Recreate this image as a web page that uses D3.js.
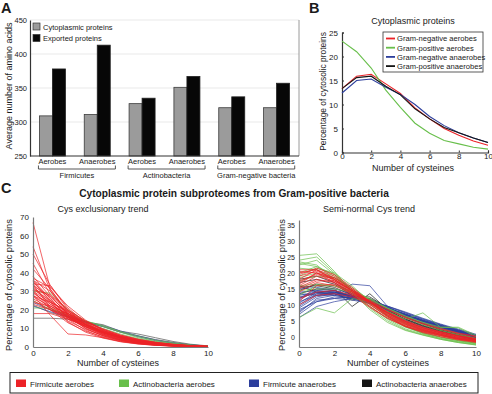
<!DOCTYPE html>
<html>
<head>
<meta charset="utf-8">
<script src="https://cdn.jsdelivr.net/npm/d3@7/dist/d3.min.js"></script>
<style>
  body { margin: 0; background: #fff; }
  svg text { font-family: "Liberation Sans", Arial, sans-serif; fill: #1a1a1a; }
</style>
</head>
<body>
<svg id="fig" width="492" height="394"></svg>
<script>
// ---------- data: panel A ----------
const groupLabels = ["Aerobes", "Anaerobes", "Aerobes", "Anaerobes", "Aerobes", "Anaerobes"];
const phyla = ["Firmicutes", "Actinobacteria", "Gram-negative bacteria"];
const cytoplasmicLen = [309, 311, 327, 351, 321, 321];
const exportedLen = [378, 413, 335, 367, 337, 357];
const aTicks = [250, 300, 350, 400, 450];
const aLegend = ["Cytoplasmic proteins", "Exported proteins"];

// ---------- data: panel B ----------
const cysCounts = [0, 1, 2, 3, 4, 5, 6, 7, 8, 9, 10];
const bNames = ["Gram-negative aerobes", "Gram-positive aerobes", "Gram-negative anaerobes", "Gram-positive anaerobes"];
const gramNegAerobes = [13.3, 15.9, 16.3, 14.3, 12.3, 9.3, 7.0, 5.0, 3.6, 2.4, 1.5];
const gramPosAerobes = [23.2, 21.0, 17.6, 13.0, 9.4, 6.1, 4.0, 2.5, 1.8, 1.1, 0.7];
const gramNegAnaerobes = [12.4, 15.0, 15.3, 13.6, 12.1, 10.0, 7.5, 5.6, 4.1, 3.0, 2.1];
const gramPosAnaerobes = [13.3, 15.6, 15.9, 13.8, 12.0, 9.1, 7.0, 5.2, 4.1, 3.0, 2.1];
const bTicksX = [0, 2, 4, 6, 8, 10];
const bTicksY = [0, 5, 10, 15, 20, 25];

// ---------- data: panel C, exclusionary trend ----------
const exclFirmAer = [
  [67, 31, 18, 12, 8, 5, 3, 2, 1, 0.5, 0.2],
  [54, 30, 17, 11, 7, 4.5, 2.8, 1.7, 1, 0.5, 0.2],
  [50, 33, 20, 12, 7.5, 4.5, 2.6, 1.5, 0.8, 0.4, 0.2],
  [45, 28, 17, 10, 6, 3.5, 2, 1.2, 0.6, 0.3, 0.1],
  [42, 31, 19, 12, 7, 4, 2.3, 1.3, 0.7, 0.3, 0.1],
  [28, 17, 7, 6.5, 5, 3, 1.8, 1, 0.5, 0.2, 0.1],
  [38, 27, 18, 11, 6.5, 3.8, 2.1, 1.2, 0.6, 0.3, 0.1],
  [36, 30, 19, 12.5, 8, 5, 3, 1.8, 1, 0.5, 0.2],
  [35, 26, 16, 10, 6, 3.6, 2, 1.1, 0.6, 0.3, 0.1],
  [34, 25, 17, 11, 7, 4.2, 2.5, 1.4, 0.8, 0.4, 0.2],
  [33, 27, 18, 12, 7.6, 4.8, 2.9, 1.7, 1, 0.5, 0.2],
  [32.5, 24, 16, 10.5, 6.6, 4, 2.4, 1.4, 0.8, 0.4, 0.2],
  [32, 23, 17, 12.5, 8.5, 5.5, 3.4, 2, 1.1, 0.6, 0.3],
  [31, 25, 18, 13, 8.8, 5.8, 3.5, 2.1, 1.2, 0.6, 0.3],
  [30, 24, 19, 13.5, 9.5, 6.2, 4, 2.4, 1.4, 0.7, 0.3],
  [29.5, 22, 16, 11.5, 7.8, 5, 3, 1.8, 1, 0.5, 0.2],
  [29, 23, 17.5, 12, 8, 5.2, 3.2, 1.9, 1.1, 0.6, 0.3],
  [28, 21, 15.5, 11, 7.5, 4.8, 3, 1.8, 1, 0.5, 0.2],
  [27, 22, 16.5, 12.5, 8.8, 6, 3.8, 2.3, 1.3, 0.7, 0.3],
  [26, 21, 16, 11.8, 8.2, 5.4, 3.4, 2, 1.2, 0.6, 0.3],
  [25, 20, 15, 11, 7.6, 5, 3.2, 1.9, 1.1, 0.6, 0.3],
  [24, 22, 18, 13.5, 9.5, 6.4, 4.2, 2.6, 1.5, 0.8, 0.4],
  [23, 20, 16, 12, 8.5, 5.7, 3.7, 2.2, 1.3, 0.7, 0.3],
  [18, 18, 15, 11.5, 8.2, 5.5, 3.5, 2.1, 1.2, 0.6, 0.3],
  [34, 33, 21, 13, 8, 4.8, 2.8, 1.6, 0.9, 0.4, 0.2],
  [36, 26, 15, 9, 5.2, 3, 1.7, 0.9, 0.5, 0.2, 0.1],
  [31, 28, 20, 14, 9, 5.6, 3.3, 1.9, 1, 0.5, 0.2],
  [33.5, 21, 14, 9.5, 6.2, 3.9, 2.3, 1.3, 0.7, 0.3, 0.1],
  [27.5, 24, 19.5, 14, 9.8, 6.5, 4.1, 2.5, 1.4, 0.7, 0.3],
  [30.5, 20, 13, 8.5, 5.5, 3.4, 2, 1.1, 0.6, 0.3, 0.1],
  [37, 32, 22, 14.5, 9.2, 5.6, 3.2, 1.8, 1, 0.5, 0.2],
  [35.5, 24.5, 13.5, 8, 4.8, 2.8, 1.6, 0.9, 0.5, 0.2, 0.1]
];
const exclActinoAer = [
  [21, 21, 17, 13, 10, 7, 4.5, 2.8, 1.6, 0.8, 0.3],
  [30, 29, 20, 14, 11, 8, 5, 3, 1.8, 0.9, 0.4],
  [25, 20, 18, 14, 11.5, 8.3, 5.8, 3.6, 2.2, 1.1, 0.5]
];
const exclFirmAnaer = [
  [24, 20, 17, 13.5, 11, 8, 5.5, 3.4, 2, 1, 0.4],
  [22, 19, 16.5, 13.5, 11.5, 8.6, 6, 3.8, 2.2, 1.1, 0.5]
];
const exclActinoAnaer = [
  [22.5, 18.5, 16, 13.5, 12, 8.5, 7, 5, 3, 1.5, 0.6],
  [15.5, 15.5, 15, 13, 11, 8, 6, 4, 2.5, 1.2, 0.5]
];

// ---------- data: panel C, semi-normal trend ----------
const semiFirmAer = [
  [20, 21, 18, 14, 10, 6.5, 3.8, 2, 0.8, -0.5, -1.2],
  [19, 20.5, 18.5, 14.5, 10.5, 6.8, 4, 2.2, 0.8, -0.6, -1.5],
  [17, 20, 18, 14.5, 11, 7, 4.2, 2.3, 1, -0.3, -1],
  [16, 19, 17.5, 14.5, 11, 7.3, 4.5, 2.5, 1.2, 0, -0.8],
  [15.5, 18, 17, 14, 10.8, 7.5, 4.8, 2.8, 1.4, 0.2, -0.6],
  [21, 21, 17.5, 13.5, 9.5, 5.8, 3.2, 1.5, 0.3, -0.8, -1.6],
  [18, 21, 19, 15, 10.8, 6.8, 3.8, 1.8, 0.5, -0.8, -1.5],
  [16.5, 20, 18.5, 15, 11.2, 7.4, 4.4, 2.2, 0.8, -0.4, -1.2],
  [14, 17, 16, 13.5, 11, 7.8, 5, 3, 1.6, 0.4, -0.5],
  [12, 14, 14.5, 13, 11.5, 8.5, 6, 4, 2.4, 1, 0],
  [10, 13, 13.5, 12.5, 11, 8.6, 6.2, 4.2, 2.6, 1.2, 0.2],
  [19.5, 21.5, 19.5, 15.5, 11, 6.5, 3.3, 1.3, 0, -1, -1.8],
  [17.5, 19.5, 18, 14.5, 10.2, 6.2, 3.4, 1.6, 0.4, -0.7, -1.4],
  [20.5, 20, 17, 13, 9.2, 5.8, 3.4, 1.8, 0.6, -0.5, -1.3],
  [15, 17.5, 17.5, 14.5, 11, 7.6, 4.6, 2.6, 1.2, 0, -1],
  [11, 16, 16.5, 14, 11, 7.8, 5, 2.9, 1.5, 0.3, -0.7]
];
const semiActinoAer = [
  [25.5, 26, 20.5, 14, 8.5, 4.5, 2, 0.5, -0.8, -1.8, -2.5],
  [24, 25, 20, 14.5, 9.5, 5.5, 2.5, 0.8, -0.5, -1.5, -2.2],
  [23, 22, 19, 14.5, 10.2, 6.2, 3.2, 1.2, -0.2, -1.2, -2],
  [22.5, 24, 19.5, 14, 9, 5, 2.2, 0.6, -0.8, -1.8, -2.6],
  [21.5, 21, 18.5, 15, 11, 7, 4, 2, 0.5, -0.6, -1.5],
  [20, 22, 19.5, 15, 10.5, 6.5, 3.5, 1.5, 0, -1.2, -2],
  [18.5, 20, 18, 14.5, 10.8, 7.2, 4.4, 2.4, 0.8, -0.5, -1.4],
  [16, 16.5, 16, 14.5, 12, 9, 6.5, 4.5, 2.5, 1, -0.5],
  [6, 9, 7.5, 12, 11, 8, 5.5, 7.5, 3, 3, 0.5],
  [14.5, 15, 15, 14, 11.5, 9, 6.5, 4.5, 3, 2.8, 0],
  [23.5, 22.5, 18, 13.5, 9.5, 5.8, 3, 1.2, -0.2, -1.2, -2],
  [19, 21.5, 20, 16, 11, 6.5, 3.2, 1, -0.6, -1.6, -2.4],
  [17.5, 19, 18.5, 15.5, 11.5, 7.5, 4.2, 2, 0.4, -0.8, -1.8],
  [13, 16, 16, 14, 11.8, 8.8, 6, 3.8, 2, 0.6, -0.6]
];
const semiFirmAnaer = [
  [6, 9.5, 11, 12, 10.5, 8.5, 6.5, 4.5, 3, 1.5, 0],
  [7, 11, 12.5, 12, 10.5, 8.6, 6.8, 4.8, 3.2, 1.6, 0.2],
  [7.5, 12, 13, 12, 10.8, 8.8, 7, 5, 3.4, 1.8, 0.2],
  [8, 11.5, 12, 11.5, 10.5, 8.8, 7.2, 5.2, 3.5, 2, 0.4],
  [9, 12.5, 13.5, 12.5, 11, 9, 7, 5, 3.3, 1.7, 0.1],
  [9.5, 13, 14, 12.8, 11.2, 9, 6.8, 4.8, 3.2, 1.6, 0],
  [10, 13.5, 14, 12.5, 11, 8.8, 6.6, 4.6, 3, 1.4, -0.2],
  [10.5, 14, 14.5, 13, 11, 8.5, 6.2, 4.3, 2.7, 1.2, -0.3],
  [11, 13, 13.5, 12.5, 11.2, 9.2, 7.2, 5.2, 3.5, 1.9, 0.3],
  [11.5, 14.5, 14, 12.2, 10.5, 8.4, 6.5, 4.6, 3, 1.5, 0],
  [12, 14, 13, 16.5, 16, 9.5, 6.5, 4.5, 2.8, 1.3, -0.2],
  [12.5, 13.5, 13.5, 12, 10.5, 8.8, 7, 5.2, 3.6, 2, 0.5],
  [13, 14, 14, 13, 11.5, 9.5, 7.5, 5.5, 3.8, 2.2, 0.6],
  [13.5, 13, 13, 12, 11, 9.6, 7.8, 5.8, 4, 2.4, 0.8],
  [14, 14.5, 14, 12.5, 11, 9, 7, 5, 3.4, 1.8, 0.2],
  [15, 15.5, 14.5, 12.5, 10.6, 8.6, 6.6, 4.8, 3.2, 1.7, 0.1],
  [8.5, 11, 12, 12.5, 11.5, 9.6, 7.6, 5.6, 3.8, 2.1, 0.4],
  [12, 15, 15, 13.5, 11.8, 9.2, 6.8, 4.8, 3.1, 1.6, 0]
];
const semiActinoAnaer = [
  [18, 19, 17, 13.5, 10.5, 7.5, 4.8, 2.8, 1.2, -0.2, -1.2],
  [15.5, 16, 15, 9.5, 13.5, 8.5, 5.5, 3.4, 1.8, 0.4, -0.8],
  [17, 18, 16.5, 13, 11.8, 8, 5.2, 3.2, 1.6, 0.2, -1],
  [13.5, 15, 14.5, 12.5, 12.5, 9, 6, 4, 2.2, 0.8, -0.4],
  [14.5, 16.5, 15.5, 13, 11, 8.2, 5.6, 3.6, 2, 0.6, -0.6],
  [16, 14, 13.5, 11.5, 12, 9.2, 6.4, 4.2, 2.5, 1, -0.3]
];
const cTicksX = [0, 2, 4, 6, 8, 10];
const exclTicksY = [0, 10, 20, 30, 40, 50, 60, 70];
const semiTicksY = [0, 5, 10, 15, 20, 25, 30, 35];
const cLegend = ["Firmicute aerobes", "Actinobacteria aerobes", "Firmicute anaerobes", "Actinobacteria anaerobes"];

// colours
const RED = "#ec2227", GREEN = "#68bf4b", BLUE = "#2c3e9c", BLACK = "#151515";

const svg = d3.select("#fig");

function styleAxis(g, size, lineColor) {
  g.select(".domain").attr("stroke", lineColor).attr("stroke-width", 1.2);
  g.selectAll(".tick line").attr("stroke", lineColor);
  g.selectAll(".tick text").style("font-size", size + "px").attr("fill", "#1a1a1a")
    .style("font-family", '"Liberation Sans", Arial, sans-serif');
}

function label(x, y, txt, size, opts = {}) {
  const t = svg.append("text").attr("x", x).attr("y", y)
    .attr("text-anchor", opts.anchor || "middle")
    .style("font-size", size + "px")
    .style("font-weight", opts.bold ? "bold" : "normal")
    .text(txt);
  if (opts.rotate) t.attr("transform", `rotate(-90,${x},${y})`);
  return t;
}

// ================= Panel A =================
const aX = d3.scaleBand().domain(d3.range(groupLabels.length))
  .range([30, 299]).paddingInner(0.42).paddingOuter(0.21);
const aSub = d3.scaleBand().domain(["cyto", "exp"]).range([0, aX.bandwidth()]);
const aY = d3.scaleLinear().domain([250, 450]).range([156, 20]);

// gridlines
svg.append("g").selectAll("line").data(aTicks.slice(1)).enter().append("line")
  .attr("x1", 30).attr("x2", 299)
  .attr("y1", d => aY(d)).attr("y2", d => aY(d))
  .attr("stroke", "#e9e9e9").attr("stroke-width", 1);
// right frame
svg.append("line").attr("x1", 299).attr("x2", 299).attr("y1", aY(450)).attr("y2", aY(250))
  .attr("stroke", "#9a9a9a").attr("stroke-width", 1);

const aBars = svg.append("g");
aBars.selectAll(".cyto").data(cytoplasmicLen).enter().append("rect")
  .attr("x", (d, i) => aX(i) + aSub("cyto"))
  .attr("y", d => aY(d))
  .attr("width", aSub.bandwidth())
  .attr("height", d => aY(250) - aY(d))
  .attr("fill", "#9b9b9b").attr("stroke", "#3c3c3c").attr("stroke-width", 0.8);
aBars.selectAll(".exp").data(exportedLen).enter().append("rect")
  .attr("x", (d, i) => aX(i) + aSub("exp"))
  .attr("y", d => aY(d))
  .attr("width", aSub.bandwidth())
  .attr("height", d => aY(250) - aY(d))
  .attr("fill", "#070707").attr("stroke", "#222").attr("stroke-width", 0.8);

const aLeft = svg.append("g").attr("transform", "translate(30,0)")
  .call(d3.axisLeft(aY).tickValues(aTicks).tickSize(0).tickPadding(3));
styleAxis(aLeft, 7.5, "#333");
svg.append("line").attr("x1", 30).attr("x2", 299).attr("y1", 156).attr("y2", 156)
  .attr("stroke", "#333").attr("stroke-width", 1.2);

// group labels and phylum brackets
const gLabelNodes = groupLabels.map((t, i) =>
  label(aX(i) + aX.bandwidth() / 2, 163.5, t, 7.5).node());
phyla.forEach((p, k) => {
  const a = gLabelNodes[2 * k], b = gLabelNodes[2 * k + 1];
  const x1 = aX(2 * k) + aX.bandwidth() / 2 - a.getComputedTextLength() / 2;
  const x2 = aX(2 * k + 1) + aX.bandwidth() / 2 + b.getComputedTextLength() / 2;
  svg.append("path")
    .attr("d", `M${x1},165.5 V169 H${x2} V165.5`)
    .attr("fill", "none").attr("stroke", "#444").attr("stroke-width", 0.9);
  label((x1 + x2) / 2, 178, p, 7.5);
});

// legend A
aLegend.forEach((t, i) => {
  svg.append("rect").attr("x", 33).attr("y", 23 + i * 11.5).attr("width", 7).attr("height", 7)
    .attr("fill", i === 0 ? "#9b9b9b" : "#070707").attr("stroke", "#333").attr("stroke-width", 0.7);
  label(43, 29.5 + i * 11.5, t, 7.5, { anchor: "start" });
});
label(11.5, 86, "Average number of amino acids", 9, { rotate: true });
label(1, 13, "A", 14.5, { anchor: "start", bold: true });

// ================= Panel B =================
const bX = d3.scaleLinear().domain([0, 10]).range([342, 488]);
const bY = d3.scaleLinear().domain([0, 25]).range([152.5, 32.5]);
const bSeries = [gramNegAerobes, gramPosAerobes, gramNegAnaerobes, gramPosAnaerobes];
const bColors = [RED, GREEN, BLUE, BLACK];

const bLeft = svg.append("g").attr("transform", "translate(342,0)")
  .call(d3.axisLeft(bY).tickValues(bTicksY).tickSize(-2).tickPadding(4));
styleAxis(bLeft, 8, "#333");
const bBottom = svg.append("g").attr("transform", "translate(0,152.5)")
  .call(d3.axisBottom(bX).tickValues(bTicksX).tickSize(-2).tickPadding(1));
styleAxis(bBottom, 8, "#333");

const bLine = d3.line().x((d, i) => bX(cysCounts[i])).y(d => bY(d));
svg.append("g").selectAll("path").data(bSeries).enter().append("path")
  .attr("d", d => bLine(d))
  .attr("fill", "none")
  .attr("stroke", (d, i) => bColors[i])
  .attr("stroke-width", 1.1);

// legend B
svg.append("rect").attr("x", 383).attr("y", 32).attr("width", 100).attr("height", 40)
  .attr("fill", "#fff").attr("stroke", "#333").attr("stroke-width", 0.8);
bNames.forEach((t, i) => {
  const yy = 38.5 + i * 9.2;
  svg.append("line").attr("x1", 386).attr("x2", 395).attr("y1", yy).attr("y2", yy)
    .attr("stroke", bColors[i]).attr("stroke-width", 1.8);
  label(397, yy + 2.8, t, 7.6, { anchor: "start" });
});
label(413, 24, "Cytoplasmic proteins", 9);
label(413, 171, "Number of cysteines", 9);
label(325.5, 91.5, "Percentage of cytosolic proteins", 8.4, { rotate: true });
label(309, 13, "B", 14.5, { anchor: "start", bold: true });

// ================= Panel C =================
label(1, 193, "C", 14.5, { anchor: "start", bold: true });
label(234, 197, "Cytoplasmic protein subproteomes from Gram-positive bacteria", 10.2, { bold: true });

function drawSpaghetti(xScale, yScale, groups) {
  const line = d3.line().x((d, i) => xScale(cysCounts[i])).y(d => yScale(d));
  groups.forEach(([rows, color]) => {
    svg.append("g").selectAll("path").data(rows).enter().append("path")
      .attr("d", d => line(d))
      .attr("fill", "none")
      .attr("stroke", color)
      .attr("stroke-width", 0.7);
  });
}

// left: exclusionary trend
const cX1 = d3.scaleLinear().domain([0, 10]).range([33, 208]);
const cY1 = d3.scaleLinear().domain([0, 70]).range([347, 217]);
drawSpaghetti(cX1, cY1, [
  [exclActinoAnaer, "#555"],
  [exclFirmAnaer, BLUE],
  [exclActinoAer, GREEN],
  [exclFirmAer, RED]
]);
const c1Left = svg.append("g").attr("transform", "translate(33,0)")
  .call(d3.axisLeft(cY1).tickValues(exclTicksY).tickSize(0).tickPadding(4));
styleAxis(c1Left, 8, "#7a7a7a");
const c1Bottom = svg.append("g").attr("transform", "translate(0,347)")
  .call(d3.axisBottom(cX1).tickValues(cTicksX).tickSize(0).tickPadding(3));
styleAxis(c1Bottom, 8, "#7a7a7a");
label(103, 211.5, "Cys exclusionary trend", 9);
label(118, 366, "Number of cysteines", 9);
label(11.5, 285, "Percentage of cytosolic proteins", 9.3, { rotate: true });

// right: semi-normal trend
const cX2 = d3.scaleLinear().domain([0, 10]).range([299, 476]);
const cY2 = d3.scaleLinear().domain([-3.2, 36.6]).range([347, 220]);
drawSpaghetti(cX2, cY2, [
  [semiActinoAnaer, BLACK],
  [semiFirmAnaer, BLUE],
  [semiActinoAer, GREEN],
  [semiFirmAer, RED]
]);
const c2Left = svg.append("g").attr("transform", "translate(299,0)")
  .call(d3.axisLeft(cY2).tickValues(semiTicksY).tickSize(0).tickPadding(4));
styleAxis(c2Left, 7, "#7a7a7a");
const c2Bottom = svg.append("g").attr("transform", "translate(0,347)")
  .call(d3.axisBottom(cX2).tickValues(cTicksX).tickSize(0).tickPadding(3));
styleAxis(c2Bottom, 8, "#7a7a7a");
label(369, 211.5, "Semi-normal Cys trend", 9);
label(388, 366, "Number of cysteines", 9);
label(284.5, 285, "Percentage of cytosolic proteins", 9.3, { rotate: true });

// legend C
const cColors = [RED, GREEN, BLUE, BLACK];
const cLegendX = [16, 119, 249, 362];
svg.append("rect").attr("x", 10).attr("y", 372.5).attr("width", 468).attr("height", 20.5)
  .attr("fill", "#fff").attr("stroke", "#222").attr("stroke-width", 1);
cLegend.forEach((t, i) => {
  svg.append("rect").attr("x", cLegendX[i]).attr("y", 379.5).attr("width", 10).attr("height", 7.5)
    .attr("fill", cColors[i]);
  label(cLegendX[i] + 14, 386.5, t, 8, { anchor: "start" });
});
</script>
</body>
</html>
